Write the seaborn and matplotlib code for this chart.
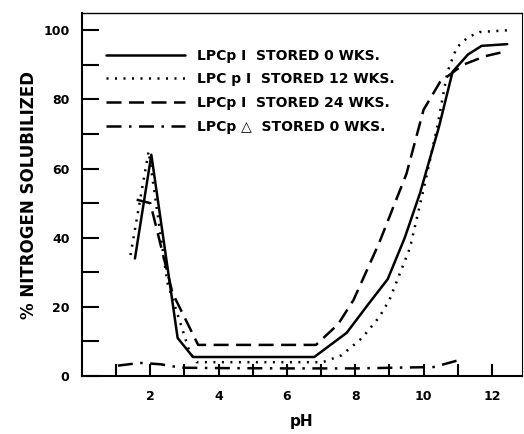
# Nitrogen solubility of LPC vs pH, for several storage times
import matplotlib
matplotlib.use("Agg")
import matplotlib.pyplot as plt
import pandas as pd
import seaborn as sns

# LPCp I stored 0 wks (solid)
ph_0wk = [1.55, 2.03, 2.8, 3.25, 6.8, 7.75, 8.4, 8.95, 9.45, 9.9, 10.45, 10.85, 11.3, 11.7, 12.45]
n_0wk = [34, 64, 11, 5.5, 5.5, 12.5, 21, 28, 40, 53, 72, 88, 93, 95.5, 96]

# LPC p I stored 12 wks (dotted)
ph_12wk = [1.42, 1.95, 2.5, 3.15, 3.35, 7.05, 7.6, 8.2, 8.7, 9.0, 9.6, 10.0, 10.4, 10.7, 10.97, 11.3, 11.65, 12.45]
n_12wk = [35, 65, 27, 7, 4, 4, 6, 11, 17, 22, 37, 54, 72, 88, 95, 98, 99.5, 100]

# LPCp I stored 24 wks (dashed)
ph_24wk = [1.6, 2.0, 2.65, 3.4, 6.85, 7.5, 7.95, 8.7, 9.5, 10.0, 10.48, 11.15, 11.8, 12.45]
n_24wk = [51, 50, 24, 9, 9, 15, 22, 38.5, 58.5, 77, 85, 90, 92.5, 94]

# LPCp triangle stored 0 wks (dash-dot)
ph_tri = [1.05, 1.7, 2.3, 2.9, 4.0, 6.0, 8.0, 10.3, 11.0]
n_tri = [3.0, 3.8, 3.4, 2.4, 2.3, 2.2, 2.2, 2.6, 4.5]

labels = ["LPCp \u2160  STORED 0 WKS.",
          "LPC p \u2160  STORED 12 WKS.",
          "LPCp \u2160  STORED 24 WKS.",
          "LPCp \u25b3  STORED 0 WKS."]

sns.set_style("ticks")
plt.rcParams['font.family'] = ['DejaVu Sans']
for key in ['text.color', 'axes.labelcolor', 'xtick.color', 'ytick.color', 'axes.edgecolor']:
    plt.rcParams[key] = 'black'

fig = plt.figure(figsize=(5.24, 4.34), dpi=100)
ax = fig.add_axes([0.1565, 0.1336, 0.8395, 0.8364])

series = [(ph_0wk, n_0wk, '-'),
          (ph_12wk, n_12wk, ':'),
          (ph_24wk, n_24wk, '--'),
          (ph_tri, n_tri, '-.')]
styles = {'-': dict(linestyle='-'),
          ':': dict(linestyle=(0, (0.8, 2.6))),
          '--': dict(linestyle=(0, (6, 3))),
          '-.': dict(linestyle=(0, (6, 3, 1, 3)))}

for (x, y, ls), lab in zip(series, labels):
    df = pd.DataFrame({'pH': x, 'N': y})
    sns.lineplot(data=df, x='pH', y='N', ax=ax, color='black', linewidth=1.8,
                 sort=False, label=lab, **styles[ls])

ax.set_xlim(0, 12.88)
ax.set_ylim(0, 105)
ax.set_xticks(range(1, 13))
ax.set_xticklabels(['' if i % 2 else str(i) for i in range(1, 13)])
ax.set_yticks(range(0, 101, 10))
ax.set_yticklabels([str(i) if i % 20 == 0 else '' for i in range(0, 101, 10)])
ax.tick_params(axis='x', direction='in', length=9, width=1.5, labelsize=9, pad=10)
ax.tick_params(axis='y', direction='in', length=12, width=1.5, labelsize=9, pad=9)
for lbl in ax.get_xticklabels() + ax.get_yticklabels():
    lbl.set_fontweight('bold')
for s in ax.spines.values():
    s.set_linewidth(1.5)
ax.spines['top'].set_linewidth(1.0)
ax.spines['right'].set_linewidth(0.8)

ax.set_xlabel('pH', fontsize=11, fontweight='bold', labelpad=8)
ax.set_ylabel('% NITROGEN SOLUBILIZED', fontsize=12, fontweight='bold', labelpad=4)

leg = ax.legend(loc='upper left', bbox_to_anchor=(0.054, 0.902), frameon=False,
                fontsize=10, handlelength=5.7, handletextpad=0.9, labelspacing=0.7,
                borderpad=0, borderaxespad=0)
for t in leg.get_texts():
    t.set_fontweight('bold')

plt.savefig('out.png', dpi=100)
